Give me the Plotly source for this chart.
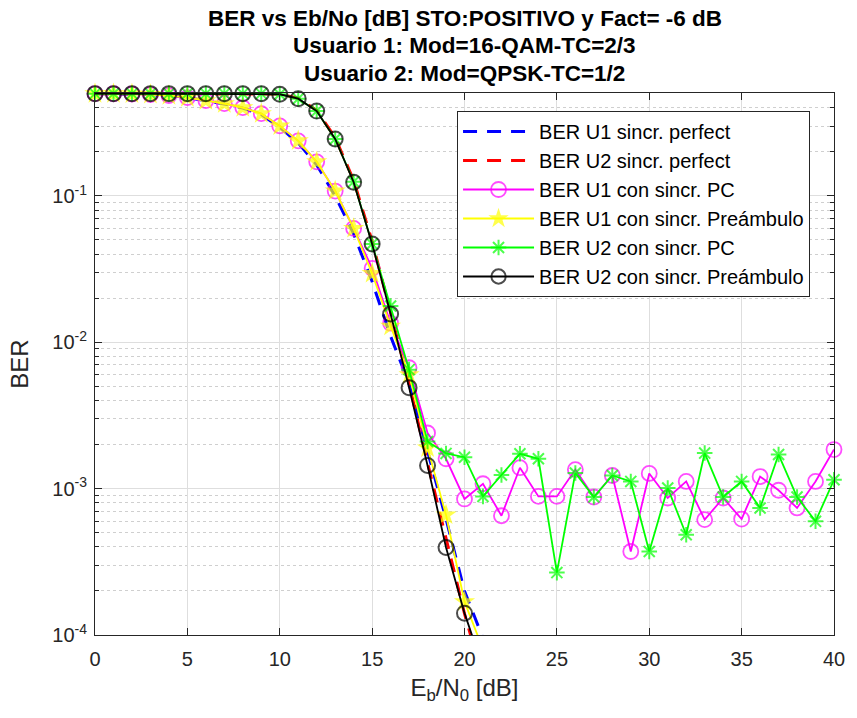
import numpy as np
import plotly.graph_objects as go

# Eb/N0 axis (dB)
ebn0 = list(range(0, 41))

# Theoretical / perfect-synchronisation curves
ber_u1_perfect = [0.5, 0.499, 0.497, 0.493, 0.485, 0.47, 0.447, 0.425, 0.398, 0.36,
                  0.295, 0.23, 0.163, 0.1, 0.055, 0.026, 0.011, 0.0052, 0.0018, 0.00062,
                  0.0002, 0.000095, 0.00002]
ber_u2_perfect = [0.5, 0.5, 0.5, 0.5, 0.5, 0.5, 0.5, 0.5, 0.5, 0.5,
                  0.497, 0.465, 0.385, 0.25, 0.128, 0.049, 0.0157, 0.0052, 0.0015, 0.00045,
                  0.00014, 0.00005]

# User 1 (16-QAM, TC 2/3)
ber_u1_pc = [0.5, 0.499, 0.497, 0.493, 0.485, 0.47, 0.448, 0.427, 0.401, 0.365,
             0.301, 0.238, 0.171, 0.108, 0.060, 0.032, 0.0135, 0.0067, 0.0024, 0.0016,
             0.00085, 0.00108, 0.000653, 0.00139, 0.000885, 0.000885, 0.00135, 0.000877, 0.00123, 0.000372,
             0.00127, 0.000863, 0.00112, 0.000614, 0.000863, 0.00062, 0.00121, 0.000975, 0.000738, 0.00112,
             0.00185]
ber_u1_pre = [0.5, 0.499, 0.497, 0.493, 0.485, 0.47, 0.448, 0.427, 0.401, 0.365,
              0.301, 0.238, 0.171, 0.108, 0.060, 0.0295, 0.0129, 0.0060, 0.0019, 0.00066,
              0.000169, 0.00008]

# User 2 (QPSK, TC 1/2)
ber_u2_pc = [0.5, 0.5, 0.5, 0.5, 0.5, 0.5, 0.5, 0.5, 0.5, 0.5,
             0.495, 0.462, 0.38, 0.245, 0.125, 0.047, 0.0177, 0.0065, 0.0021, 0.00174,
             0.00164, 0.000885, 0.00124, 0.00173, 0.0016, 0.000267, 0.00128, 0.000877, 0.00123, 0.00112,
             0.000372, 0.00101, 0.000484, 0.00175, 0.000877, 0.00112, 0.000738, 0.00171, 0.000877, 0.000598,
             0.00115]
ber_u2_pre = [0.5, 0.5, 0.5, 0.5, 0.5, 0.5, 0.5, 0.5, 0.5, 0.5,
              0.495, 0.462, 0.38, 0.245, 0.124, 0.047, 0.0156, 0.0049, 0.00144, 0.000396,
              0.000141, 0.00006]

names = ["BER U1 sincr. perfect", "BER U2 sincr. perfect", "BER U1 con sincr. PC",
         "BER U1 con sincr. Preámbulo", "BER U2 con sincr. PC", "BER U2 con sincr. Preámbulo"]

title_lines = ["BER vs Eb/No [dB] STO:POSITIVO y Fact= -6 dB",
               "Usuario 1: Mod=16-QAM-TC=2/3",
               "Usuario 2: Mod=QPSK-TC=1/2"]

y_min, y_max = 1e-4, 0.505
FONT = "Liberation Sans, Arial, sans-serif"

# plot-area geometry (px)
L, R, T, B = 95, 19, 93, 83
PH = 718 - T - B


def sizes(vals, s):
    # hide markers that fall below the visible range
    return [s if v >= y_min else 0 for v in vals]


fig = go.Figure()

fig.add_trace(go.Scatter(x=ebn0[:len(ber_u1_perfect)], y=ber_u1_perfect, mode="lines", name=names[0],
                         line=dict(color="#0000FF", width=3, dash="14px,10px")))
fig.add_trace(go.Scatter(x=ebn0[:len(ber_u2_perfect)], y=ber_u2_perfect, mode="lines", name=names[1],
                         line=dict(color="#FF0000", width=3, dash="14px,10px")))
fig.add_trace(go.Scatter(x=ebn0[:len(ber_u1_pc)], y=ber_u1_pc, mode="lines+markers", name=names[2],
                         cliponaxis=False,
                         line=dict(color="#FF00FF", width=1.8),
                         marker=dict(symbol="circle-open", size=sizes(ber_u1_pc, 15), color="#FF00FF",
                                     line=dict(width=1.8, color="#FF00FF"))))
fig.add_trace(go.Scatter(x=ebn0[:len(ber_u1_pre)], y=ber_u1_pre, mode="lines+markers", name=names[3],
                         cliponaxis=False,
                         line=dict(color="#FFFF00", width=1.8),
                         marker=dict(symbol="star", size=sizes(ber_u1_pre, 16), color="#FFFF00",
                                     line=dict(width=0))))
fig.add_trace(go.Scatter(x=ebn0[:len(ber_u2_pc)], y=ber_u2_pc, mode="lines+markers", name=names[4],
                         cliponaxis=False,
                         line=dict(color="#00FF00", width=1.8),
                         marker=dict(symbol="asterisk-open", size=sizes(ber_u2_pc, 13), color="#00FF00",
                                     line=dict(width=2, color="#00FF00"))))
fig.add_trace(go.Scatter(x=ebn0[:len(ber_u2_pre)], y=ber_u2_pre, mode="lines+markers", name=names[5],
                         cliponaxis=False,
                         line=dict(color="#000000", width=1.8),
                         marker=dict(symbol="circle-open", size=sizes(ber_u2_pre, 15), color="#000000",
                                     line=dict(width=2, color="#000000"))))

major_vals = [1e-4, 1e-3, 1e-2, 1e-1]
major_text = ["10<sup>-4</sup>", "10<sup>-3</sup>", "10<sup>-2</sup>", "10<sup>-1</sup>"]
minor_vals = [k * 10.0 ** e for e in range(-4, 0) for k in range(2, 10) if k * 10.0 ** e <= y_max]

axis_common = dict(showline=True, linecolor="#262626", linewidth=1, mirror="allticks",
                   ticks="inside", tickcolor="#262626", ticklen=7,
                   tickfont=dict(family=FONT, size=20, color="#262626"),
                   gridcolor="#dedede", gridwidth=1, zeroline=False)

# three bold title lines centred over the plot area
title_centres = [18, 46, 73]
annotations = [
    dict(text=f"<b>{txt}</b>", x=0.5, xref="paper", xanchor="center",
         y=1 + (T - yc) / PH, yref="paper", yanchor="middle", showarrow=False,
         font=dict(family=FONT, size=22.5, color="#000000"))
    for txt, yc in zip(title_lines, title_centres)
]

fig.update_layout(
    width=857, height=718,
    margin=dict(l=L, r=R, t=T, b=B),
    paper_bgcolor="white", plot_bgcolor="white",
    font=dict(family=FONT, color="#262626"),
    annotations=annotations,
    xaxis=dict(range=[0, 40], tick0=0, dtick=5, showgrid=True, ticklabelstandoff=6,
               title=dict(text="E<sub>b</sub>/N<sub>0</sub> [dB]",
                          font=dict(family=FONT, size=24, color="#262626"), standoff=10),
               **axis_common),
    yaxis=dict(type="log", range=[np.log10(y_min), np.log10(y_max)],
               tickmode="array", tickvals=major_vals, ticktext=major_text, showgrid=True,
               ticklabelstandoff=3,
               minor=dict(tickmode="array", tickvals=minor_vals, ticks="inside", ticklen=4,
                          tickcolor="#262626", showgrid=True, gridcolor="#cfcfcf", griddash="dot"),
               title=dict(text="BER", font=dict(family=FONT, size=24, color="#262626"), standoff=16),
               **axis_common),
    legend=dict(x=(459 - L) / (857 - L - R), y=(635 - 111) / PH, xanchor="left", yanchor="top",
                bgcolor="white", bordercolor="#262626", borderwidth=1,
                font=dict(family=FONT, size=20, color="#000000"),
                tracegroupgap=0, itemwidth=71),
    showlegend=True,
)

fig.write_html("out.html")
